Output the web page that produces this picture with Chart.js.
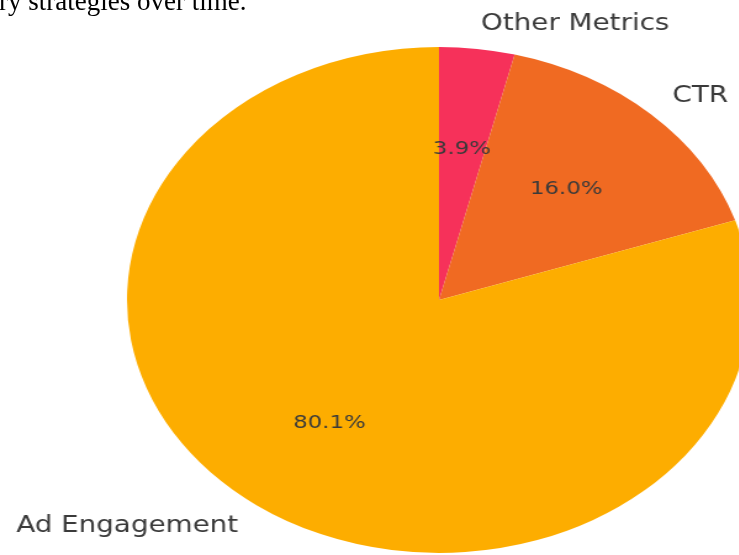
<!DOCTYPE html>
<html>
<head>
<meta charset="utf-8">
<script src="https://cdn.jsdelivr.net/npm/chart.js@4"></script>
<style>
    html, body { margin: 0; padding: 0; background: #fff; }
    #page {
        position: relative;
        width: 739px;
        height: 555px;
        overflow: hidden;
    }
    #caption {
        position: absolute;
        left: -1px;
        top: -13px;
        font-family: "Liberation Serif", "Times New Roman", serif;
        font-size: 27px;
        line-height: 28px;
        color: #000;
        white-space: nowrap;
    }
    #stretch {
        position: absolute;
        left: 0;
        top: 0;
        width: 620px;
        height: 555px;
        transform: scaleX(1.2332);
        transform-origin: 0 0;
    }
</style>
</head>
<body>
<div id="page">
    <div id="stretch"><canvas id="pieChart"></canvas></div>
    <div id="caption">ry strategies over time.</div>
</div>

<script>
const categories = ["Other Metrics", "CTR", "Ad Engagement"];
const shares = [3.9, 16.0, 80.1];
const sliceColors = ["#F6315A", "#F06A22", "#FDAD00"];

// labels outside at 1.1 r, percentages inside at 0.6 r
const sliceLabels = {
    id: "sliceLabels",
    afterDatasetsDraw(chart){
        const ctx = chart.ctx;
        const arcs = chart.getDatasetMeta(0).data;
        const total = shares.reduce((a, b) => a + b, 0);

        ctx.save();
        ctx.fillStyle = "#3a3a3a";
        ctx.textBaseline = "middle";

        arcs.forEach((arc, i) => {
            const mid = (arc.startAngle + arc.endAngle) / 2;
            const r = arc.outerRadius;
            const cos = Math.cos(mid);
            const sin = Math.sin(mid);

            ctx.font = "22.5px 'DejaVu Sans'";
            ctx.textAlign = cos >= 0 ? "left" : "right";
            ctx.fillText(categories[i], arc.x + cos * r * 1.1, arc.y + sin * r * 1.1);

            ctx.font = "18.5px 'DejaVu Sans'";
            ctx.textAlign = "center";
            const pct = (shares[i] / total * 100).toFixed(1) + "%";
            ctx.fillText(pct, arc.x + cos * r * 0.6, arc.y + sin * r * 0.6);
        });

        ctx.restore();
    }
};

new Chart(
    document.getElementById("pieChart"),
    {
        type: "pie",
        data: {
            labels: categories,
            datasets: [{
                data: shares,
                backgroundColor: sliceColors,
                borderWidth: 0
            }]
        },
        options: {
            responsive: true,
            maintainAspectRatio: false,
            animation: false,
            layout: {
                padding: { top: 47, bottom: 2, left: 103, right: 11 }
            },
            plugins: {
                legend: { display: false },
                tooltip: { enabled: false }
            }
        },
        plugins: [sliceLabels]
    }
);
</script>
</body>
</html>
